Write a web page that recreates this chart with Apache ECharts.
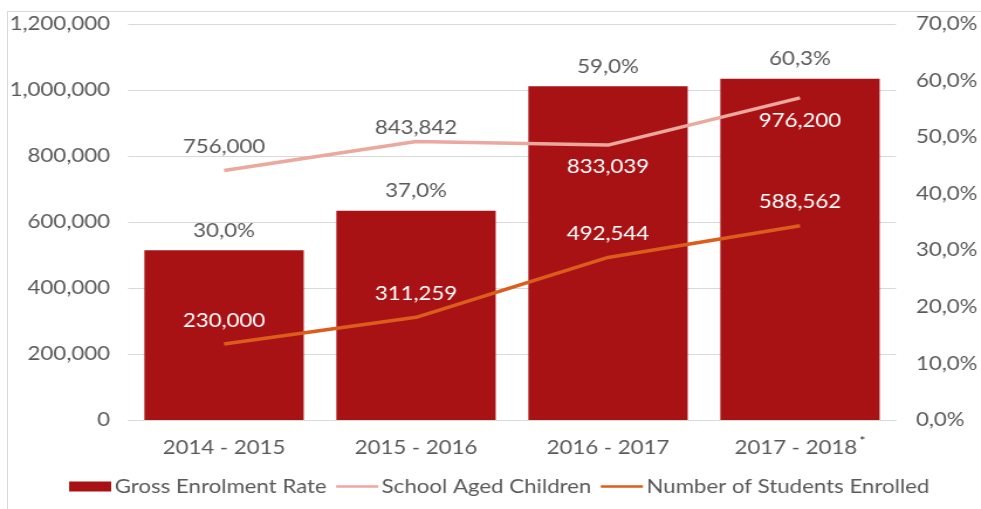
<!DOCTYPE html>
<html>
<head>
<meta charset="utf-8">
<script src="https://cdn.jsdelivr.net/npm/echarts@6/dist/echarts.min.js"></script>
<style>
html,body{margin:0;padding:0;background:#fff;overflow:hidden;}
#frame{position:absolute;left:7px;top:11px;width:974px;height:498px;border-left:1px solid #d9d9d9;border-top:1px solid #d9d9d9;}
#chart{position:absolute;left:0;top:0;width:838px;height:509px;transform:scaleX(1.1706);transform-origin:0 0;}
</style>
</head>
<body>
<div id="frame"></div>
<div id="chart"></div>
<script>
const categories = ['2014 - 2015', '2015 - 2016', '2016 - 2017', '2017 - 2018*'];
const grossEnrolmentRate = [0.300, 0.370, 0.590, 0.603];
const schoolAgedChildren = [756000, 843842, 833039, 976200];
const studentsEnrolled = [230000, 311259, 492544, 588562];
const leftTicks = { min: 0, max: 1200000, interval: 200000 };
const rightTicks = { min: 0, max: 0.7, interval: 0.1 };

const FONT = 'Lato';
const GRAY = '#595959';
const BAR = '#A81215';
const PINK = '#EBA89E';
const ORANGE = '#DC5C1C';
const FS = 19;

function fmtNum(v) { return Math.round(v).toLocaleString('en-US'); }
function fmtPct(v) { return (v * 100).toFixed(1).replace('.', ',') + '%'; }

// label styling (not data)
const pinkLabelStyle = [
  { position: 'top', color: GRAY, distance: 14 },
  { position: 'top', color: GRAY, distance: 4 },
  { position: 'bottom', color: '#fff', distance: 12 },
  { position: 'bottom', color: '#fff', distance: 14 }
];
const LINE_ICON = 'path://M0,0L40,0L40,3L0,3Z';

const chart = echarts.init(document.getElementById('chart'));
chart.setOption({
  animation: false,
  textStyle: { fontFamily: FONT },
  grid: { left: 109.4, right: 69.2, top: 24, bottom: 89 },
  legend: {
    left: 54, top: 472, itemGap: 8, itemWidth: 36, itemHeight: 10,
    textStyle: { fontFamily: FONT, fontSize: FS, color: GRAY, padding: [0, 0, 0, -2] },
    data: [
      { name: 'Gross Enrolment Rate', icon: 'rect' },
      { name: 'School Aged Children', icon: LINE_ICON },
      { name: 'Number of Students Enrolled', icon: LINE_ICON }
    ]
  },
  xAxis: {
    type: 'category',
    data: categories,
    axisLine: { lineStyle: { color: '#d9d9d9', width: 1 } },
    axisTick: { show: false },
    axisLabel: {
      interval: 0, margin: 15,
      fontFamily: FONT, fontSize: FS, color: GRAY,
      formatter: function (v) {
        return v.endsWith('*') ? '{a|' + v.slice(0, -1) + '}{s|*}' : '{a|' + v + '}';
      },
      rich: {
        a: { fontFamily: FONT, fontSize: FS, color: GRAY, lineHeight: 26 },
        s: { fontFamily: FONT, fontSize: 12, lineHeight: 12, color: '#222', padding: [0, 0, 14, 2] }
      }
    }
  },
  yAxis: [
    {
      type: 'value', position: 'left',
      min: leftTicks.min, max: leftTicks.max, interval: leftTicks.interval,
      axisLine: { show: false }, axisTick: { show: false },
      splitLine: { lineStyle: { color: '#d9d9d9', width: 1 } },
      axisLabel: { margin: 15.4, fontFamily: FONT, fontSize: FS, color: GRAY, formatter: fmtNum }
    },
    {
      type: 'value', position: 'right',
      min: rightTicks.min, max: rightTicks.max, interval: rightTicks.interval,
      axisLine: { show: false }, axisTick: { show: false },
      splitLine: { show: false },
      axisLabel: { margin: 17, fontFamily: FONT, fontSize: FS, color: GRAY, formatter: fmtPct }
    }
  ],
  series: [
    {
      name: 'Gross Enrolment Rate', type: 'bar', yAxisIndex: 1,
      barWidth: '83%', z: 1,
      itemStyle: { color: BAR },
      data: grossEnrolmentRate,
      label: {
        show: true, position: 'top', distance: 10,
        fontFamily: FONT, fontSize: FS, color: GRAY,
        formatter: p => fmtPct(p.value)
      }
    },
    {
      name: 'School Aged Children', type: 'line', yAxisIndex: 0,
      symbol: 'circle', symbolSize: 0.01, showSymbol: true, z: 3,
      lineStyle: { color: PINK, width: 3.5 },
      itemStyle: { color: PINK },
      data: schoolAgedChildren.map((v, i) => ({ value: v, label: pinkLabelStyle[i] })),
      label: {
        show: true, fontFamily: FONT, fontSize: FS,
        formatter: p => fmtNum(p.value)
      }
    },
    {
      name: 'Number of Students Enrolled', type: 'line', yAxisIndex: 0,
      symbol: 'circle', symbolSize: 0.01, showSymbol: true, z: 3,
      lineStyle: { color: ORANGE, width: 3.5 },
      itemStyle: { color: ORANGE },
      data: studentsEnrolled,
      label: {
        show: true, position: 'top', distance: 14,
        fontFamily: FONT, fontSize: FS, color: '#fff',
        formatter: p => fmtNum(p.value)
      }
    }
  ]
});
</script>
</body>
</html>
